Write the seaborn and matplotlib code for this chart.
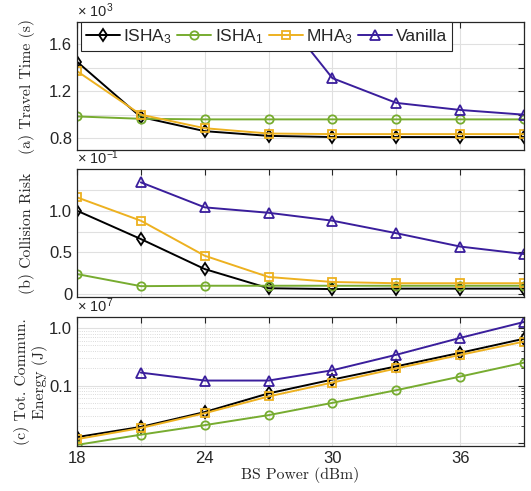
import numpy as np
import pandas as pd
import matplotlib
matplotlib.use("Agg")
import matplotlib.pyplot as plt
import seaborn as sns
from matplotlib.ticker import FixedLocator, NullFormatter, LogLocator

# ---------------- data ----------------
bs_power = [18, 21, 24, 27, 30, 33, 36, 39]
series_names = ["ISHA3", "ISHA1", "MHA3", "Vanilla"]
legend_labels = [r"ISHA$_{\mathrm{3}}$", r"ISHA$_{\mathrm{1}}$", r"MHA$_{\mathrm{3}}$", "Vanilla"]

# (a) Travel time (x 10^3 s)
travel_isha3 = [1.45, 0.98, 0.86, 0.82, 0.81, 0.81, 0.81, 0.81]
travel_isha1 = [0.985, 0.965, 0.96, 0.96, 0.96, 0.96, 0.96, 0.96]
travel_mha3 = [1.37, 1.00, 0.885, 0.84, 0.835, 0.835, 0.835, 0.835]
travel_vanilla = [np.nan, 3.0, 2.4, 1.99, 1.31, 1.10, 1.04, 1.00]

# (b) Collision risk (x 10^-1)
risk_isha3 = [1.00, 0.66, 0.30, 0.07, 0.06, 0.065, 0.065, 0.065]
risk_isha1 = [0.24, 0.095, 0.10, 0.10, 0.10, 0.10, 0.10, 0.10]
risk_mha3 = [1.16, 0.88, 0.46, 0.205, 0.145, 0.13, 0.13, 0.13]
risk_vanilla = [np.nan, 1.34, 1.04, 0.975, 0.88, 0.73, 0.57, 0.48]

# (c) Total communication energy (x 10^7 J)
energy_isha3 = [0.0127, 0.0191, 0.0346, 0.073, 0.127, 0.215, 0.37, 0.65]
energy_isha1 = [0.0093, 0.014, 0.0205, 0.0306, 0.050, 0.083, 0.143, 0.25]
energy_mha3 = [0.0117, 0.0183, 0.033, 0.0646, 0.1126, 0.198, 0.34, 0.58]
energy_vanilla = [np.nan, 0.1675, 0.122, 0.122, 0.184, 0.342, 0.672, 1.27]

x_ticks = [18, 21, 24, 27, 30, 33, 36, 39]
x_ticklabels = ["18", "", "24", "", "30", "", "36", ""]

colors = {"ISHA3": "#000000", "ISHA1": "#77AC30", "MHA3": "#EDB120", "Vanilla": "#3A1E9C"}
markers = {"ISHA3": "d", "ISHA1": "o", "MHA3": "s", "Vanilla": "^"}
msizes = {"ISHA3": 6.5, "ISHA1": 6, "MHA3": 6, "Vanilla": 6.5}

# ---------------- style ----------------
sns.set_style("white")
plt.rcParams["font.family"] = ["Liberation Sans", "DejaVu Sans"]
plt.rcParams["mathtext.fontset"] = "custom"
plt.rcParams["mathtext.rm"] = "Liberation Sans"
plt.rcParams["mathtext.it"] = "Liberation Sans:italic"
plt.rcParams["mathtext.bf"] = "Liberation Sans:bold"

axcol = "#262626"
fig = plt.figure(figsize=(5.31, 4.91), dpi=100)
L, W = 77 / 531, (524 - 77) / 531
ax_a = fig.add_axes([L, 1 - 150 / 491, W, 128 / 491])
ax_b = fig.add_axes([L, 1 - 297 / 491, W, 128 / 491])
ax_c = fig.add_axes([L, 1 - 446 / 491, W, 129 / 491])

panels = [
    (ax_a, [travel_isha3, travel_isha1, travel_mha3, travel_vanilla]),
    (ax_b, [risk_isha3, risk_isha1, risk_mha3, risk_vanilla]),
    (ax_c, [energy_isha3, energy_isha1, energy_mha3, energy_vanilla]),
]

for ax, ys in panels:
    for name, lab, y in zip(series_names, legend_labels, ys):
        df = pd.DataFrame({"x": bs_power, "y": y}).dropna()
        sns.lineplot(data=df, x="x", y="y", ax=ax, color=colors[name], lw=1.4,
                     marker=markers[name], markersize=msizes[name],
                     markerfacecolor="none", markeredgecolor=colors[name],
                     markeredgewidth=1.3, label=lab, legend=False)
    ax.set_xlim(18, 39)
    ax.set_xticks(x_ticks)
    ax.set_xlabel("")
    ax.set_ylabel("")
    for s in ax.spines.values():
        s.set_color(axcol)
        s.set_linewidth(0.9)
    ax.tick_params(direction="in", length=4, width=0.8, colors=axcol, labelsize=12,
                   top=True, right=True, labelcolor="#262626")
    ax.grid(True, which="major", color="#e0e0e0", lw=0.8)
    ax.set_axisbelow(True)

ax_a.set_xticklabels([])
ax_b.set_xticklabels([])
ax_c.set_xticklabels(x_ticklabels)

# (a)
ax_a.set_ylim(0.7, 1.787)
ax_a.set_yticks([0.8, 1.0, 1.2, 1.4, 1.6])
ax_a.set_yticklabels(["0.8", "", "1.2", "", "1.6"])
# (b)
ax_b.set_ylim(-0.035, 1.5)
ax_b.set_yticks([0, 0.25, 0.5, 0.75, 1.0, 1.25])
ax_b.set_yticklabels(["0", "", "0.5", "", "1.0", ""])
# (c)
ax_c.set_yscale("log")
ax_c.set_ylim(0.0089, 1.55)
ax_c.yaxis.set_major_locator(FixedLocator([0.01, 0.1, 1.0]))
ax_c.set_yticklabels(["", "0.1", "1.0"])
ax_c.yaxis.set_minor_locator(LogLocator(base=10, subs=np.arange(2, 10)))
ax_c.yaxis.set_minor_formatter(NullFormatter())
ax_c.tick_params(which="minor", direction="in", length=2, width=0.6, colors=axcol, right=True)
ax_c.grid(True, which="minor", axis="y", color="#cfcfcf", lw=0.6, ls=":")

# multipliers
for ax, txt in [(ax_a, r"$\times$ 10$^{3}$"), (ax_b, r"$\times$ 10$^{-1}$"), (ax_c, r"$\times$ 10$^{7}$")]:
    ax.text(0.0, 1.015, txt, transform=ax.transAxes, fontsize=10.5, color="#262626",
            ha="left", va="bottom")

# axis labels in Computer Modern
cm = dict(family="cmr10", fontsize=11.3, color="#262626")
ax_a.set_ylabel("(a) Travel Time (s)", **cm)
ax_b.set_ylabel("(b) Collision Risk", **cm)
ax_c.set_ylabel("(c) Tot. Commun.\nEnergy (J)", linespacing=1.15, **cm)
ax_a.yaxis.set_label_coords(-0.095, 0.5)
ax_b.yaxis.set_label_coords(-0.095, 0.5)
ax_c.yaxis.set_label_coords(-0.065, 0.5)
ax_c.set_xlabel("BS Power (dBm)", labelpad=1, **cm)

# legend
handles, labels = ax_a.get_legend_handles_labels()
leg = ax_a.legend(handles, labels, loc="upper left", bbox_to_anchor=(0.008, 1.0), ncol=4,
                  fontsize=12.5, frameon=True, fancybox=False, edgecolor="#262626",
                  framealpha=1, borderpad=0.3, handlelength=1.95, handletextpad=0.2,
                  columnspacing=0.3, borderaxespad=0.0)
leg.get_frame().set_linewidth(0.8)

fig.savefig("out.png", dpi=100)
